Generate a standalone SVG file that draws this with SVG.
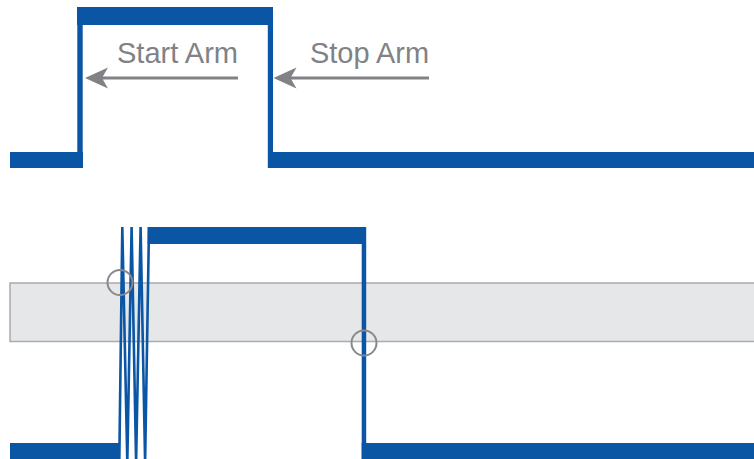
<svg xmlns="http://www.w3.org/2000/svg" width="754" height="459" viewBox="0 0 754 459">
  <defs>
    <style>
      .sig { fill: #0B55A5; }
      .zig { fill: none; stroke: #0B55A5; stroke-width: 2.6; stroke-linejoin: miter; }
      .band { fill: #E6E7E8; stroke: #A9ABAE; stroke-width: 1.5; }
      .ring { fill: none; stroke: #88898C; stroke-width: 2; }
      .lbl { font-family: "Liberation Sans", Arial, sans-serif; font-size: 30px; fill: #808285; }
      .arr { stroke: #808285; stroke-width: 3; fill: none; }
      .head { fill: #808285; }
    </style>
  </defs>
  <rect width="754" height="459" fill="#FFFFFF"/>

  <g id="threshold-band">
    <rect class="band" x="10" y="283" width="750" height="58.5"/>
  </g>

  <g id="arm-signal">
    <rect class="sig" x="10" y="152" width="73" height="16"/>
    <rect class="sig" x="77" y="7" width="196" height="18"/>
    <rect class="sig" x="77.3" y="7" width="5.4" height="161"/>
    <rect class="sig" x="267.8" y="7" width="5.2" height="161"/>
    <rect class="sig" x="268" y="152" width="486" height="16"/>
  </g>

  <g id="input-signal">
    <rect class="sig" x="10" y="443" width="109.5" height="16"/>
    <polyline class="zig" points="119.3,462 122.3,227 127.3,462 131.6,227 136.1,462 140.6,227 145.1,462 149,227"/>
    <rect class="sig" x="147.7" y="227" width="218.3" height="17"/>
    <rect class="sig" x="361.7" y="227" width="4.5" height="232"/>
    <rect class="sig" x="361.7" y="443" width="392.3" height="16"/>
  </g>

  <g id="crossing-start">
    <circle class="ring" cx="120" cy="282.5" r="12.5"/>
  </g>
  <g id="crossing-stop">
    <circle class="ring" cx="364" cy="343" r="12.5"/>
  </g>

  <g id="label-start">
    <text class="lbl" x="117" y="63" textLength="121" lengthAdjust="spacingAndGlyphs">Start Arm</text>
  </g>
  <g id="label-stop">
    <text class="lbl" x="310" y="63" textLength="119" lengthAdjust="spacingAndGlyphs">Stop Arm</text>
  </g>

  <g id="connectors">
    <line class="arr" x1="100" y1="78" x2="238" y2="78"/>
    <polygon class="head" points="85,78 108,67.5 102,78 108,88.5"/>
    <line class="arr" x1="288" y1="78" x2="429" y2="78"/>
    <polygon class="head" points="273.5,78 296.5,67.5 290.5,78 296.5,88.5"/>
  </g>
</svg>
